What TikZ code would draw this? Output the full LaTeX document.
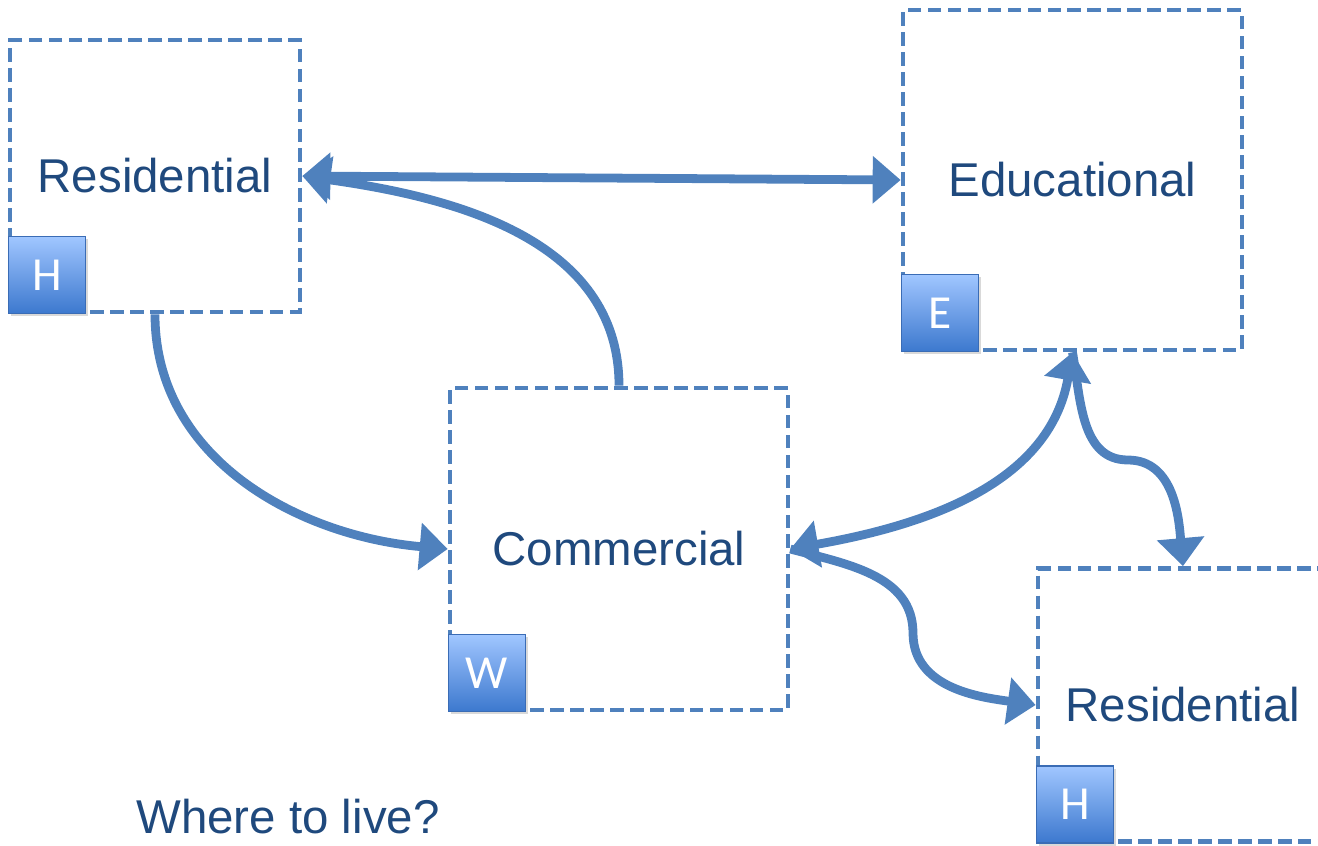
\documentclass[tikz,border=0pt]{standalone}
\usepackage{fontspec}
\setmainfont{Liberation Sans}
\newfontfamily\tagfont{Carlito}
\usepackage{tikz}
\usetikzlibrary{arrows.meta,shapes,shadows}
\definecolor{lineblue}{HTML}{4F81BD}
\definecolor{textblue}{HTML}{1F497D}
\definecolor{tagtop}{HTML}{A0C6FF}
\definecolor{tagbottom}{HTML}{3C78CE}
\definecolor{tagrim}{HTML}{3A6CB5}
\tikzstyle{zone}=[rectangle,draw=lineblue,line width=2.7pt,dash pattern=on 0.27cm off 0.13cm,inner sep=0pt,text=textblue,font=\fontsize{27}{32}\selectfont]
\tikzstyle{tag}=[rectangle,draw=tagrim,line width=0.8pt,top color=tagtop,bottom color=tagbottom,minimum size=1.54cm,inner sep=0pt,text=white,font=\tagfont\fontsize{27}{32}\selectfont,drop shadow={opacity=0.3,shadow xshift=1.5pt,shadow yshift=-1.5pt}]
\tikzstyle{link}=[draw=lineblue,line width=5pt,-{Triangle[length=0.56cm,width=0.92cm]}]

\begin{document}
\begin{tikzpicture}[x=0.02cm,y=-0.02cm]
    \useasboundingbox (0,0) rectangle (1318,845);
    % the four zones
    \node[zone,minimum width=5.8cm,minimum height=5.44cm] (res1) at (155,176) {Residential};
    \node[zone,minimum width=6.78cm,minimum height=6.8cm] (edu) at (1072.5,180) {Educational};
    \node[zone,minimum width=6.76cm,minimum height=6.44cm] (com) at (619,549) {Commercial};
    \node[zone,minimum width=5.8cm,minimum height=5.46cm] (res2) at (1183,705) {Residential};

    % letter tags in the lower left corners
    \foreach \name/\letter in {res1/H, edu/E, com/W, res2/H}
        \node[tag,anchor=south west] (\name-tag) at (\name.south west) {\letter};

    % bend points of the wavy links
    \coordinate (bend1) at (1128,460);
    \coordinate (bend2) at (913,633);

    % links between zones
    \path[link,{Triangle[length=0.56cm,width=0.92cm]}-{Triangle[length=0.56cm,width=0.92cm]}] (res1.east) -- (edu.west);
    \path[link] (com.north) to[out=90,in=-8] (res1.east);
    \path[link] (res1.south) to[out=-90,in=175] (com.west);
    \path[link,{Triangle[length=0.56cm,width=0.92cm]}-{Triangle[length=0.56cm,width=0.92cm]}] (com.east) to[out=10,in=-100] (edu.south);
    \path[link] (edu.south) to[out=-80,in=180] (bend1) to[out=0,in=95] (res2.north);
    \path[link] (com.east) to[out=-15,in=90] (bend2) to[out=-90,in=172] (res2.west);

    \node[anchor=base,text=textblue,font=\fontsize{27}{32}\selectfont] (question) at (288,833) {Where to live?};
\end{tikzpicture}
\end{document}
